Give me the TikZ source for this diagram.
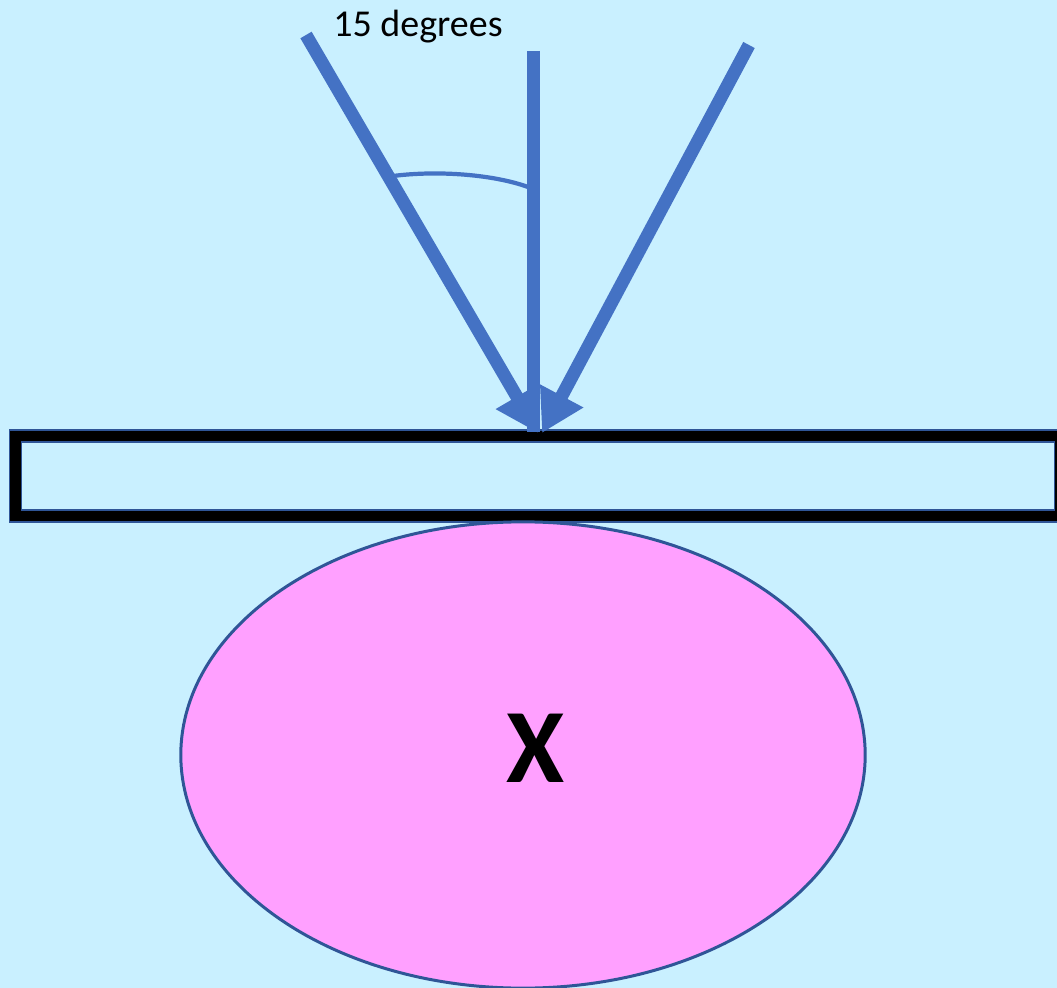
\documentclass[tikz,border=0pt]{standalone}
\usepackage{fontspec}
\setmainfont{Carlito}
\usepackage{tikz}
\usetikzlibrary{shapes.geometric, arrows.meta, positioning}
\definecolor{skybg}{RGB}{201,240,255}
\definecolor{raylblue}{RGB}{68,114,196}
\definecolor{edgeblue}{RGB}{47,85,151}
\definecolor{blobpink}{RGB}{255,160,255}
\tikzset{
  plate/.style={rectangle, draw=edgeblue, line width=0.4pt,
    double=black, double distance=3pt, inner sep=0pt,
    minimum width=10.44cm, minimum height=0.80cm},
  blob/.style={ellipse, draw=edgeblue, fill=blobpink, line width=0.85pt,
    inner sep=0pt, minimum width=6.84cm, minimum height=4.66cm},
  ray/.style={line width=3.7pt, color=raylblue},
  rayhead/.style={ray, -{Triangle[length=0.42cm, width=0.46cm]}},
  anglearc/.style={line width=1.2pt, color=raylblue},
  lbl/.style={font=\fontsize{10.8}{13}\selectfont, inner sep=0pt}
}

\begin{document}
\begin{tikzpicture}[x=0.01cm, y=-0.01cm]
  \useasboundingbox (0,0) rectangle (1057,988);
  \fill[skybg] (0,0) rectangle (1057,988);
  \begin{scope}
    \clip (0,0) rectangle (1057,988);
    % plate and body
    \node[plate] (slab) at (538,476) {};
    \node[blob] (body) at (523,755) {};
    \node[font=\bfseries\fontsize{30}{36}\selectfont, inner sep=0pt] (xmark) at (536,748) {X};
  \end{scope}
  % incoming rays
  \coordinate (lsrc) at (306,35);
  \coordinate (msrc) at (533.5,51);
  \coordinate (rsrc) at (749,45);
  \coordinate (ltip) at (538,433);
  \coordinate (mtip) at (533.5,432);
  \coordinate (rtip) at (542,433);
  \draw[rayhead] (lsrc) -- (ltip);
  \draw[rayhead] (rsrc) -- (rtip);
  \draw[ray] (msrc) -- (mtip);
  % angle mark
  \coordinate (arcl) at (393,176);
  \coordinate (arcr) at (528,187);
  \draw[anglearc] (arcl) .. controls (440,170) and (495,175) .. (arcr);
  \node[lbl] (angtxt) at (418,27) {15 degrees};
\end{tikzpicture}
\end{document}
